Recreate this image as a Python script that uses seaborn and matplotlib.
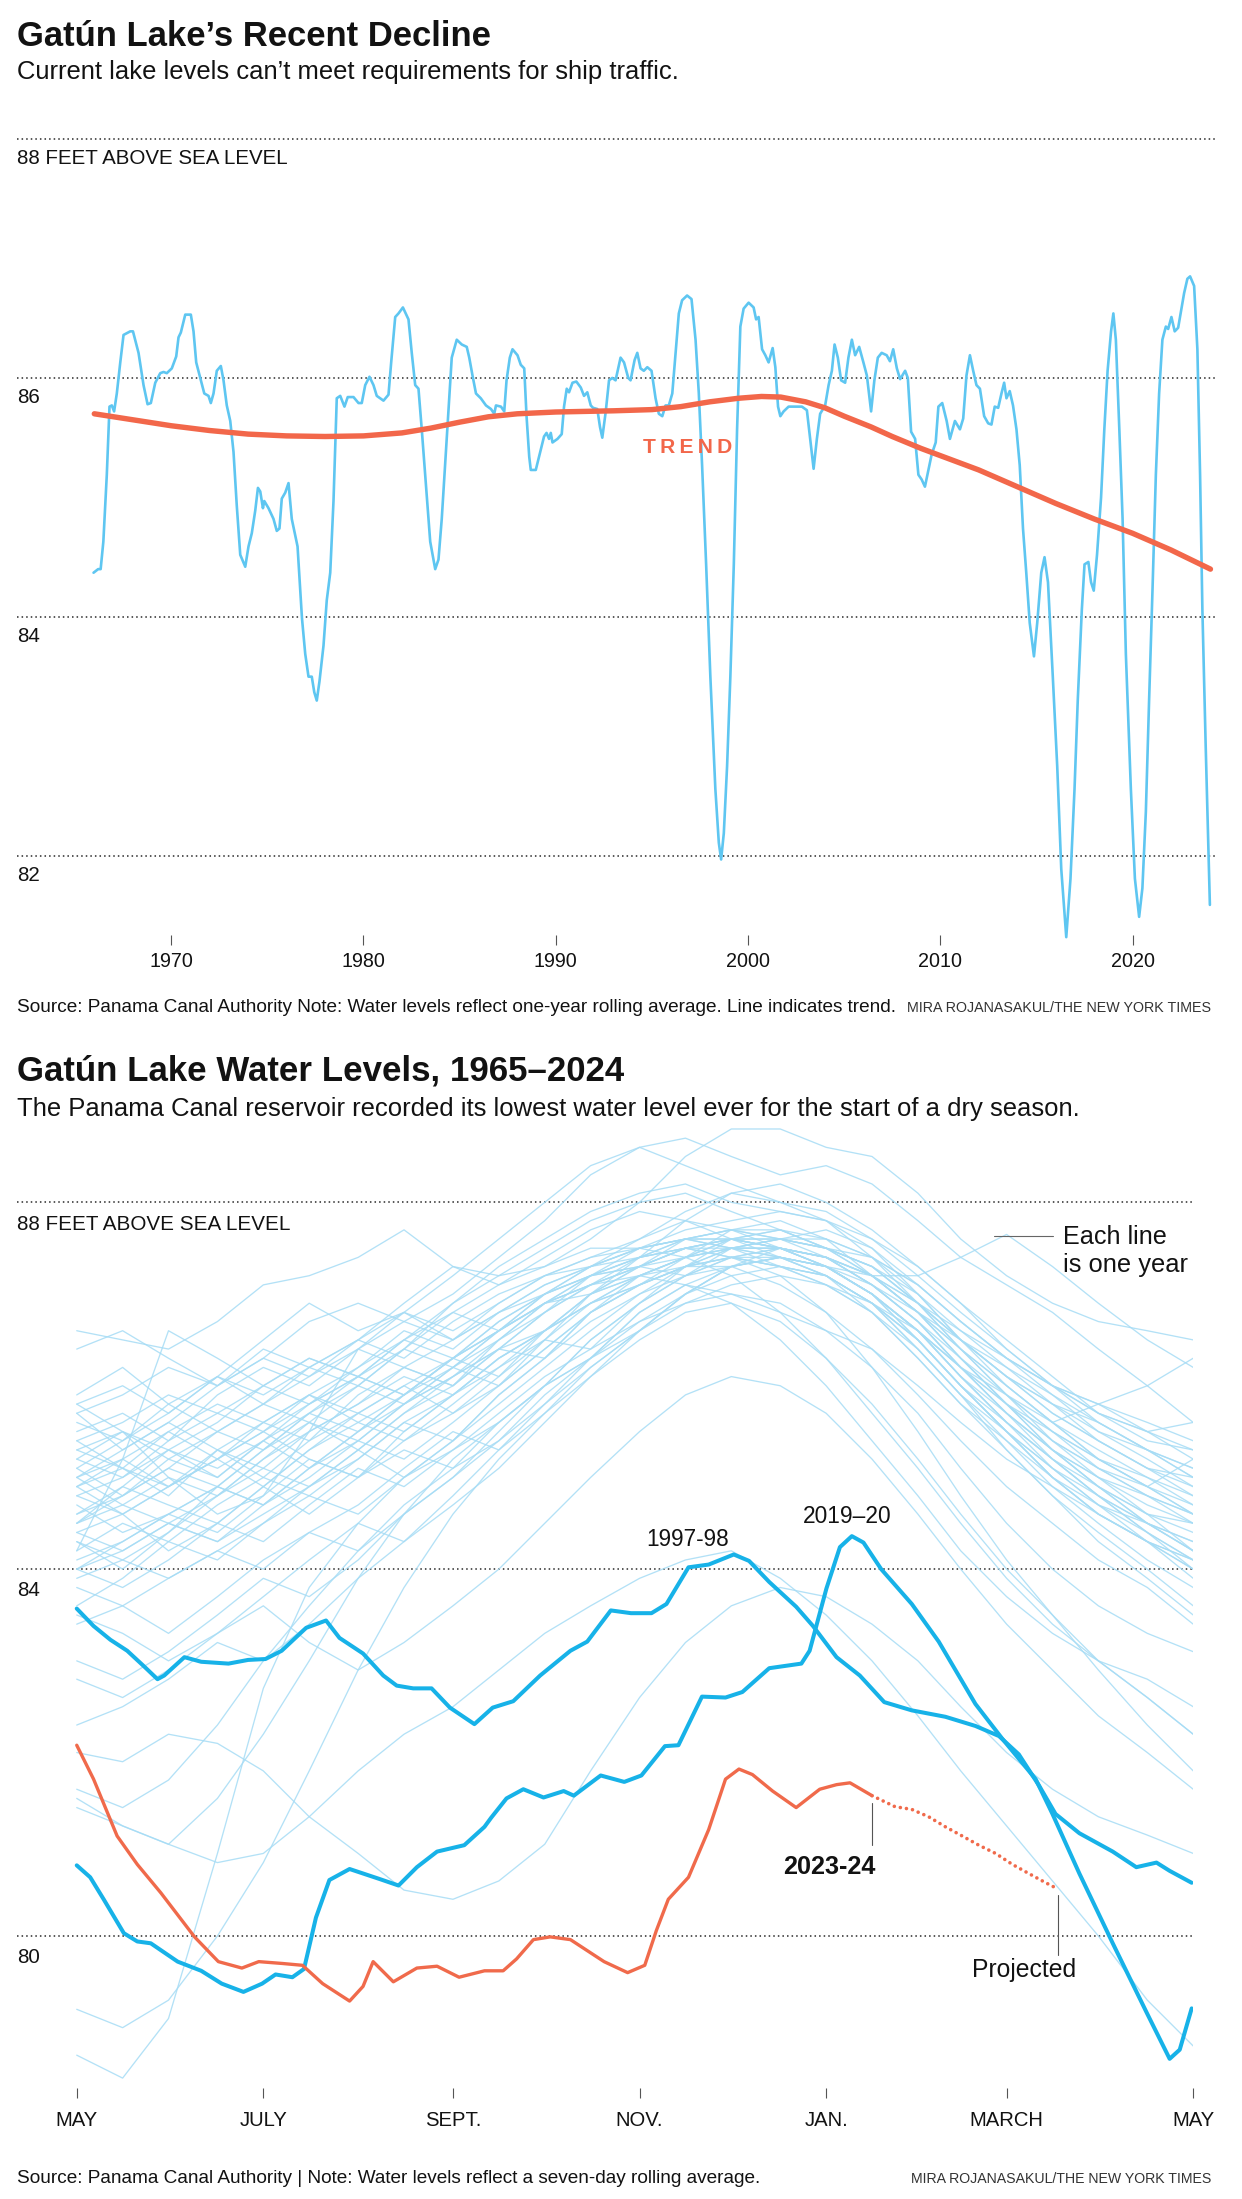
# Gatún Lake: two stacked NYT-style charts in one tall figure

import matplotlib
matplotlib.use('Agg')
import pandas as pd
import matplotlib.pyplot as plt
import matplotlib.transforms as mtransforms
import seaborn as sns

# %% data: one-year rolling average of the lake level (feet), 1966-2024
top_points = [
    (1965.96, 84.37), (1966.2, 84.40), (1966.33, 84.40), (1966.47, 84.63), (1966.65, 85.19),
    (1966.79, 85.76), (1966.91, 85.77), (1967.03, 85.72), (1967.17, 85.87), (1967.35, 86.13),
    (1967.52, 86.36), (1967.87, 86.39), (1968.01, 86.39), (1968.30, 86.21), (1968.56, 85.94),
    (1968.77, 85.78), (1968.94, 85.79), (1969.17, 85.96), (1969.43, 86.04), (1969.60, 86.05),
    (1969.77, 86.04), (1970.03, 86.08), (1970.26, 86.18), (1970.38, 86.34), (1970.50, 86.38),
    (1970.73, 86.53), (1971.02, 86.53), (1971.16, 86.39), (1971.30, 86.13), (1971.51, 86.00),
    (1971.72, 85.87), (1971.94, 85.85), (1972.06, 85.79), (1972.20, 85.87), (1972.37, 86.06),
    (1972.58, 86.10), (1972.72, 85.98), (1972.89, 85.77), (1973.07, 85.64), (1973.24, 85.38),
    (1973.41, 84.93), (1973.59, 84.52), (1973.85, 84.42), (1974.02, 84.59), (1974.19, 84.70),
    (1974.37, 84.89), (1974.51, 85.08), (1974.63, 85.05), (1974.77, 84.91), (1974.84, 84.97),
    (1975.06, 84.91), (1975.32, 84.82), (1975.49, 84.72), (1975.63, 84.74), (1975.75, 84.99),
    (1975.93, 85.04), (1976.10, 85.12), (1976.27, 84.82), (1976.57, 84.59), (1976.80, 83.99),
    (1976.97, 83.69), (1977.14, 83.50), (1977.31, 83.50), (1977.44, 83.37), (1977.57, 83.30),
    (1977.71, 83.46), (1977.92, 83.76), (1978.09, 84.14), (1978.27, 84.37), (1978.44, 84.97),
    (1978.61, 85.83), (1978.79, 85.85), (1979.01, 85.76), (1979.18, 85.84), (1979.48, 85.84),
    (1979.74, 85.79), (1979.91, 85.79), (1980.09, 85.94), (1980.31, 86.01), (1980.52, 85.94),
    (1980.69, 85.85), (1981.04, 85.81), (1981.30, 85.86), (1981.44, 86.13), (1981.65, 86.51),
    (1981.82, 86.54), (1982.05, 86.59), (1982.34, 86.49), (1982.51, 86.21), (1982.69, 85.94),
    (1982.86, 85.91), (1983.03, 85.57), (1983.21, 85.19), (1983.47, 84.63), (1983.73, 84.40),
    (1983.90, 84.48), (1984.07, 84.82), (1984.33, 85.49), (1984.59, 86.17), (1984.85, 86.32),
    (1985.11, 86.28), (1985.37, 86.26), (1985.5, 86.17), (1985.67, 86.02), (1985.85, 85.87),
    (1986.10, 85.83), (1986.37, 85.77), (1986.63, 85.74), (1986.80, 85.70), (1986.89, 85.77),
    (1987.15, 85.76), (1987.32, 85.72), (1987.44, 85.98), (1987.61, 86.17), (1987.75, 86.24),
    (1988.01, 86.19), (1988.18, 86.11), (1988.36, 86.08), (1988.48, 85.68), (1988.62, 85.34),
    (1988.70, 85.23), (1988.96, 85.23), (1989.13, 85.34), (1989.39, 85.51), (1989.52, 85.54),
    (1989.65, 85.49), (1989.74, 85.54), (1989.83, 85.46), (1990.09, 85.49), (1990.31, 85.53),
    (1990.43, 85.76), (1990.57, 85.91), (1990.69, 85.88), (1990.87, 85.96), (1991.07, 85.97),
    (1991.30, 85.92), (1991.47, 85.85), (1991.64, 85.88), (1991.82, 85.77), (1991.94, 85.75),
    (1992.16, 85.74), (1992.30, 85.59), (1992.42, 85.50), (1992.60, 85.72), (1992.77, 85.98),
    (1992.94, 86.00), (1993.11, 85.98), (1993.37, 86.17), (1993.55, 86.13), (1993.77, 86.00),
    (1993.89, 85.98), (1994.10, 86.15), (1994.24, 86.21), (1994.41, 86.08), (1994.58, 86.06),
    (1994.76, 86.09), (1994.98, 86.06), (1995.19, 85.83), (1995.36, 85.70), (1995.54, 85.68),
    (1995.71, 85.77), (1995.88, 85.77), (1996.06, 85.87), (1996.23, 86.21), (1996.40, 86.54),
    (1996.57, 86.65), (1996.83, 86.69), (1997.06, 86.66), (1997.27, 86.32), (1997.44, 85.87),
    (1997.61, 85.27), (1997.82, 84.44), (1998.04, 83.50), (1998.30, 82.56), (1998.48, 82.11),
    (1998.60, 81.97), (1998.74, 82.19), (1998.91, 82.75), (1999.08, 83.50), (1999.26, 84.44),
    (1999.43, 85.57), (1999.60, 86.43), (1999.77, 86.58), (2000.03, 86.63), (2000.29, 86.59),
    (2000.42, 86.49), (2000.55, 86.51), (2000.73, 86.24), (2000.90, 86.19), (2001.07, 86.13),
    (2001.28, 86.25), (2001.42, 86.09), (2001.56, 85.76), (2001.68, 85.68), (2001.85, 85.72),
    (2002.11, 85.76), (2002.37, 85.76), (2002.80, 85.76), (2003.06, 85.73), (2003.23, 85.49),
    (2003.41, 85.24), (2003.58, 85.49), (2003.75, 85.70), (2004.01, 85.77), (2004.19, 85.94),
    (2004.36, 86.06), (2004.50, 86.28), (2004.67, 86.17), (2004.84, 85.98), (2005.05, 85.96),
    (2005.22, 86.17), (2005.40, 86.32), (2005.57, 86.19), (2005.78, 86.26), (2006.00, 86.13),
    (2006.18, 86.02), (2006.40, 85.72), (2006.57, 85.98), (2006.75, 86.17), (2006.95, 86.21),
    (2007.21, 86.19), (2007.38, 86.14), (2007.55, 86.24), (2007.74, 86.08), (2007.91, 85.99),
    (2008.17, 86.06), (2008.31, 86.00), (2008.48, 85.55), (2008.69, 85.49), (2008.86, 85.19),
    (2009.03, 85.15), (2009.20, 85.09), (2009.38, 85.23), (2009.55, 85.36), (2009.76, 85.46),
    (2009.90, 85.76), (2010.10, 85.79), (2010.33, 85.64), (2010.50, 85.49), (2010.76, 85.64),
    (2011.02, 85.57), (2011.19, 85.66), (2011.36, 86.02), (2011.54, 86.19), (2011.71, 86.06),
    (2011.88, 85.94), (2012.06, 85.91), (2012.28, 85.68), (2012.49, 85.62), (2012.66, 85.61),
    (2012.83, 85.76), (2013.01, 85.75), (2013.18, 85.87), (2013.32, 85.96), (2013.44, 85.83),
    (2013.61, 85.89), (2013.78, 85.77), (2013.96, 85.57), (2014.13, 85.27), (2014.30, 84.74),
    (2014.47, 84.37), (2014.65, 83.95), (2014.87, 83.67), (2015.04, 83.95), (2015.25, 84.37),
    (2015.42, 84.50), (2015.60, 84.29), (2015.85, 83.50), (2016.08, 82.75), (2016.29, 81.89),
    (2016.55, 81.32), (2016.77, 81.81), (2016.98, 82.56), (2017.15, 83.31), (2017.36, 84.06),
    (2017.50, 84.44), (2017.70, 84.46), (2017.84, 84.29), (2017.98, 84.22), (2018.15, 84.52),
    (2018.36, 85.00), (2018.53, 85.57), (2018.70, 86.06), (2018.88, 86.39), (2019.00, 86.54),
    (2019.13, 86.32), (2019.31, 85.57), (2019.48, 84.82), (2019.65, 83.69), (2019.91, 82.56),
    (2020.12, 81.81), (2020.34, 81.49), (2020.51, 81.73), (2020.69, 82.37), (2020.86, 83.31),
    (2021.04, 84.25), (2021.21, 85.19), (2021.38, 85.87), (2021.55, 86.32), (2021.73, 86.43),
    (2021.85, 86.41), (2022.02, 86.51), (2022.19, 86.39), (2022.37, 86.42), (2022.54, 86.58),
    (2022.68, 86.71), (2022.85, 86.83), (2022.99, 86.85), (2023.20, 86.77), (2023.37, 86.24),
    (2023.51, 85.19), (2023.63, 84.06), (2023.80, 82.93), (2023.92, 82.19), (2024.02, 81.59),
]

trend_years = [1966, 1968, 1970, 1972, 1974, 1976, 1978, 1980, 1982, 1983.5, 1985, 1986.5,
               1988, 1990, 1993, 1995, 1996.5, 1998, 1999.5, 2000.7, 2001.7, 2003, 2004,
               2005, 2006.4, 2007.5, 2009, 2010.5, 2012, 2014, 2016, 2018, 2020, 2022, 2024.05]
trend_levels = [85.70, 85.65, 85.60, 85.56, 85.53, 85.515, 85.51, 85.515, 85.54, 85.58, 85.63,
                85.675, 85.70, 85.715, 85.725, 85.735, 85.76, 85.80, 85.83, 85.845, 85.84,
                85.80, 85.75, 85.68, 85.59, 85.51, 85.41, 85.32, 85.23, 85.09, 84.95, 84.82,
                84.70, 84.56, 84.40]

tick_years = [1970, 1980, 1990, 2000, 2010, 2020]

# %% data: seven-day rolling average by season, day 0 = May 1
days = [0, 15, 30, 46, 61, 76, 92, 107, 123, 138, 153, 168, 184,
        199, 214, 230, 245, 260, 275, 289, 304, 319, 334, 350, 365]

typical_lines = [
    [84.9, 85.1, 84.8, 85.3, 85.6, 85.4, 85.9, 86.2, 86.0, 86.5, 86.9, 87.1, 87.3, 87.5, 87.6, 87.5, 87.4, 87.2, 86.8, 86.4, 86.0, 85.6, 85.3, 85.0, 84.8],
    [84.5, 84.7, 85.0, 84.8, 85.2, 85.6, 85.3, 85.7, 86.1, 86.4, 86.3, 86.8, 87.2, 87.4, 87.6, 87.7, 87.5, 87.3, 87.0, 86.5, 86.1, 85.7, 85.4, 85.1, 84.9],
    [85.2, 85.0, 85.4, 85.7, 85.5, 85.8, 86.1, 85.9, 86.3, 86.6, 87.0, 87.2, 87.4, 87.5, 87.4, 87.3, 87.2, 86.9, 86.5, 86.0, 85.6, 85.2, 84.8, 84.5, 84.3],
    [84.2, 84.5, 84.3, 84.7, 85.0, 84.8, 85.2, 85.6, 85.4, 85.9, 86.3, 86.7, 87.0, 87.3, 87.6, 87.5, 87.4, 87.1, 86.7, 86.2, 85.7, 85.3, 85.0, 84.8, 84.6],
    [85.5, 85.7, 85.4, 85.9, 86.2, 86.0, 86.4, 86.7, 86.5, 86.9, 87.2, 87.4, 87.5, 87.6, 87.5, 87.5, 87.3, 87.0, 86.6, 86.2, 85.8, 85.5, 85.2, 85.0, 84.7],
    [84.7, 84.4, 84.6, 84.9, 84.7, 85.1, 85.5, 85.8, 86.2, 86.0, 86.4, 86.8, 87.1, 87.4, 87.5, 87.6, 87.5, 87.3, 86.9, 86.4, 85.9, 85.4, 85.0, 84.6, 84.2],
    [85.0, 85.3, 85.6, 85.3, 85.0, 85.4, 85.7, 85.5, 85.9, 86.3, 86.6, 87.0, 87.2, 87.4, 87.7, 87.8, 87.6, 87.2, 86.8, 86.5, 86.2, 85.9, 85.6, 85.3, 85.1],
    [84.4, 84.6, 84.9, 85.2, 85.5, 85.2, 85.0, 85.4, 85.8, 86.2, 86.5, 86.4, 86.9, 87.3, 87.5, 87.4, 87.2, 86.9, 86.4, 85.9, 85.5, 85.1, 84.7, 84.4, 84.1],
    [85.3, 85.1, 84.9, 85.2, 85.6, 85.9, 85.7, 86.0, 86.3, 86.1, 86.6, 87.0, 87.3, 87.6, 87.7, 87.6, 87.4, 87.1, 86.8, 86.3, 85.8, 85.4, 85.1, 84.9, 85.2],
    [84.8, 85.0, 85.3, 85.1, 85.4, 85.7, 86.0, 85.8, 86.1, 86.5, 86.9, 87.2, 87.4, 87.5, 87.6, 87.4, 87.3, 87.0, 86.6, 86.1, 85.6, 85.2, 84.9, 84.6, 84.4],
    [84.1, 84.3, 84.6, 84.4, 84.8, 85.2, 85.0, 85.5, 85.9, 86.3, 86.6, 87.0, 87.3, 87.5, 87.5, 87.4, 87.3, 87.1, 86.7, 86.3, 85.9, 85.5, 85.2, 84.9, 84.7],
    [85.6, 85.4, 85.8, 86.1, 85.9, 86.2, 86.5, 86.3, 86.7, 87.0, 87.2, 87.3, 87.5, 87.6, 87.6, 87.5, 87.4, 87.2, 86.9, 86.6, 86.3, 86.0, 85.8, 85.6, 85.4],
    [84.6, 84.9, 84.7, 84.5, 84.9, 85.3, 85.6, 85.4, 85.7, 86.0, 86.4, 86.8, 87.1, 87.3, 87.4, 87.5, 87.4, 87.1, 86.7, 86.2, 85.7, 85.3, 84.9, 84.6, 84.5],
    [85.1, 84.8, 85.1, 85.5, 85.8, 85.6, 86.0, 86.4, 86.2, 86.6, 86.9, 87.1, 87.4, 87.6, 87.7, 87.6, 87.5, 87.3, 86.9, 86.5, 86.1, 85.8, 85.5, 85.3, 85.0],
    [84.3, 84.1, 84.4, 84.8, 85.1, 84.9, 85.3, 85.0, 85.4, 85.8, 86.2, 86.6, 87.0, 87.2, 87.5, 87.5, 87.3, 87.0, 86.5, 86.0, 85.5, 85.1, 84.8, 84.4, 84.0],
    [85.4, 85.6, 85.9, 85.7, 86.0, 86.3, 86.1, 86.4, 86.8, 86.6, 86.9, 87.2, 87.4, 87.6, 87.7, 87.7, 87.5, 87.2, 86.9, 86.5, 86.1, 85.8, 85.6, 85.3, 85.1],
    [84.9, 85.2, 84.9, 85.2, 85.5, 85.9, 85.6, 85.9, 86.3, 86.6, 86.9, 87.0, 87.2, 87.3, 87.5, 87.6, 87.5, 87.4, 87.1, 86.7, 86.3, 86.0, 85.7, 85.4, 85.3],
    [84.0, 84.2, 84.5, 84.3, 84.6, 84.9, 85.3, 85.7, 86.0, 86.4, 86.8, 87.1, 87.3, 87.5, 87.6, 87.5, 87.3, 87.0, 86.6, 86.1, 85.6, 85.1, 84.7, 84.3, 83.9],
    [84.6, 84.8, 85.2, 85.5, 85.3, 85.7, 85.5, 85.9, 86.3, 86.7, 87.0, 87.2, 87.3, 87.4, 87.5, 87.6, 87.6, 87.4, 87.0, 86.6, 86.2, 85.8, 85.4, 85.1, 84.8],
    [85.0, 84.7, 84.5, 84.8, 85.2, 85.5, 85.8, 86.1, 85.9, 86.2, 86.6, 86.9, 87.2, 87.4, 87.6, 87.7, 87.6, 87.4, 87.1, 86.7, 86.3, 85.9, 85.5, 85.2, 84.9],
    [84.4, 84.2, 84.5, 84.3, 84.7, 85.1, 85.4, 85.2, 85.6, 86.0, 86.5, 86.9, 87.2, 87.4, 87.5, 87.5, 87.4, 87.2, 86.8, 86.4, 86.0, 85.6, 85.2, 84.9, 84.6],
    [85.2, 85.5, 85.2, 85.0, 85.4, 85.8, 86.1, 85.9, 86.2, 86.5, 86.8, 87.1, 87.3, 87.5, 87.6, 87.6, 87.5, 87.3, 86.9, 86.5, 86.1, 85.7, 85.4, 85.1, 85.0],
]

spread_lines = [
    [85.9, 86.2, 85.8, 85.5, 85.8, 86.2, 86.0, 86.4, 86.9, 87.3, 87.6, 87.9, 88.1, 88.2, 88.0, 87.9, 87.8, 87.5, 87.0, 86.5, 86.0, 85.6, 85.2, 84.9, 84.6],
    [84.3, 84.0, 84.4, 84.9, 85.3, 85.7, 86.1, 86.5, 86.9, 87.2, 87.5, 87.8, 88.0, 88.1, 87.9, 87.7, 87.5, 87.2, 86.8, 86.3, 85.8, 85.3, 84.9, 84.5, 84.2],
    [84.8, 84.6, 84.2, 84.5, 84.9, 84.6, 85.0, 85.3, 85.1, 85.4, 85.9, 86.3, 86.8, 87.1, 87.0, 86.8, 86.6, 86.4, 86.0, 85.6, 85.2, 84.9, 84.6, 84.3, 84.1],
    [85.4, 85.1, 85.5, 85.2, 84.9, 85.3, 85.7, 86.0, 85.7, 86.1, 86.5, 87.0, 87.4, 87.8, 88.1, 88.2, 88.0, 87.7, 87.3, 86.9, 86.4, 86.0, 85.6, 85.3, 85.0],
    [84.0, 83.8, 84.1, 84.5, 84.3, 84.7, 85.1, 84.9, 85.3, 85.6, 86.0, 86.3, 86.7, 87.0, 87.2, 87.3, 87.2, 86.9, 86.4, 85.9, 85.3, 84.8, 84.4, 84.0, 83.6],
    [85.7, 85.3, 85.6, 86.0, 86.4, 86.2, 86.5, 86.9, 87.3, 87.1, 87.4, 87.7, 87.9, 87.8, 87.6, 87.6, 87.7, 87.5, 87.1, 86.7, 86.3, 86.0, 85.8, 85.5, 85.3],
    [84.5, 84.9, 85.3, 85.0, 85.4, 85.1, 85.5, 85.9, 86.3, 86.7, 87.0, 87.2, 87.3, 87.2, 87.3, 87.4, 87.2, 86.8, 86.3, 85.8, 85.4, 85.0, 84.7, 84.5, 84.3],
    [85.1, 85.4, 85.7, 86.1, 85.8, 86.1, 86.4, 86.2, 86.5, 86.8, 87.0, 87.3, 87.6, 87.9, 88.1, 88.0, 87.8, 87.4, 86.9, 86.4, 85.9, 85.5, 85.1, 84.8, 84.5],
    [83.6, 83.9, 84.3, 84.1, 84.5, 84.9, 85.2, 85.6, 85.9, 86.3, 86.6, 86.9, 87.1, 87.3, 87.3, 87.1, 86.8, 86.4, 85.9, 85.4, 84.9, 84.5, 84.1, 83.8, 83.4],
    [84.9, 84.6, 84.9, 85.3, 85.1, 85.5, 85.8, 86.2, 86.0, 86.4, 86.8, 87.2, 87.5, 87.7, 87.8, 87.9, 87.8, 87.6, 87.3, 86.9, 86.5, 86.1, 85.7, 85.5, 85.6],
]

high_lines = [
    [86.6, 86.5, 86.4, 86.7, 87.1, 87.2, 87.4, 87.7, 87.3, 87.2, 87.3, 87.6, 88.0, 88.5, 88.8, 88.8, 88.6, 88.5, 88.1, 87.6, 87.2, 86.9, 86.7, 86.6, 86.5],
    [86.4, 86.6, 86.3, 86.0, 86.3, 86.7, 86.9, 86.7, 87.0, 87.4, 87.8, 88.3, 88.6, 88.7, 88.5, 88.3, 88.4, 88.2, 87.8, 87.4, 87.1, 86.8, 86.4, 86.0, 85.6],
    [85.8, 86.0, 85.7, 86.1, 86.5, 86.9, 86.6, 86.8, 87.2, 87.6, 88.0, 88.4, 88.6, 88.4, 88.2, 88.0, 87.9, 87.6, 87.2, 86.8, 86.4, 86.0, 85.7, 85.5, 85.2],
    [85.7, 85.9, 86.2, 86.0, 86.3, 86.1, 86.5, 86.8, 86.6, 86.9, 87.2, 87.4, 87.6, 87.8, 87.7, 87.5, 87.3, 87.2, 87.2, 87.4, 87.65, 87.3, 86.9, 86.5, 86.2],
    [85.0, 85.2, 85.5, 85.8, 85.6, 85.9, 86.2, 86.5, 86.3, 86.6, 87.0, 87.3, 87.5, 87.6, 87.5, 87.3, 87.1, 86.9, 86.6, 86.2, 85.9, 85.6, 85.8, 86.0, 86.3],
]

lowstart_lines = [
    [78.7, 78.45, 79.1, 80.9, 82.7, 83.8, 84.5, 85.0, 85.4, 85.9, 86.3, 86.8, 87.1, 87.3, 87.4, 87.3, 87.1, 86.8, 86.4, 85.9, 85.4, 84.9, 84.5, 84.1, 83.8],
    [79.2, 79.0, 79.3, 80.0, 80.8, 81.8, 82.9, 83.8, 84.6, 85.2, 85.7, 86.2, 86.6, 87.0, 87.3, 87.4, 87.3, 87.0, 86.6, 86.1, 85.6, 85.2, 84.8, 84.5, 84.2],
    [81.6, 81.4, 81.7, 82.3, 83.0, 83.6, 84.2, 84.7, 85.1, 85.6, 86.0, 86.5, 86.9, 87.2, 87.4, 87.4, 87.2, 86.9, 86.5, 86.0, 85.5, 85.0, 84.6, 84.3, 84.0],
    [81.4, 81.2, 81.0, 81.5, 82.2, 83.0, 83.9, 84.6, 85.2, 85.6, 86.0, 86.3, 86.6, 86.9, 87.1, 87.2, 87.1, 86.8, 86.3, 85.8, 85.3, 84.8, 84.3, 83.9, 83.5],
    [82.3, 82.5, 82.8, 83.2, 83.0, 83.4, 83.9, 84.3, 84.8, 85.3, 85.8, 86.2, 86.6, 87.0, 87.3, 87.4, 87.3, 87.0, 86.6, 86.1, 85.7, 85.3, 85.0, 84.7, 84.5],
    [83.0, 82.8, 83.1, 83.5, 83.9, 83.7, 84.1, 84.6, 85.0, 85.5, 86.0, 86.5, 86.9, 87.2, 87.4, 87.5, 87.4, 87.1, 86.7, 86.2, 85.7, 85.2, 84.8, 84.4, 84.1],
    [83.4, 83.6, 83.3, 83.7, 84.1, 84.4, 84.2, 84.6, 85.0, 85.4, 85.8, 86.3, 86.8, 87.1, 87.3, 87.4, 87.3, 87.0, 86.5, 86.0, 85.5, 85.0, 84.6, 84.3, 84.0],
    [83.8, 83.6, 83.9, 84.2, 84.0, 84.4, 84.7, 85.1, 85.5, 85.3, 85.7, 86.1, 86.6, 87.0, 87.3, 87.5, 87.4, 87.2, 86.8, 86.3, 85.8, 85.3, 84.9, 84.5, 84.2],
]

dry_lines = [
    [81.5, 81.2, 81.0, 80.8, 80.9, 81.3, 81.8, 82.2, 82.5, 82.9, 83.3, 83.6, 83.9, 84.1, 84.2, 83.9, 83.5, 83.0, 82.4, 81.8, 81.2, 80.6, 80.0, 79.3, 78.8],
    [82.0, 81.9, 82.2, 82.1, 81.8, 81.3, 80.9, 80.5, 80.4, 80.6, 81.0, 81.8, 82.6, 83.2, 83.6, 83.8, 83.7, 83.4, 83.0, 82.5, 82.0, 81.6, 81.3, 81.1, 80.9],
    [83.5, 83.3, 83.0, 83.3, 83.6, 83.2, 82.9, 83.2, 83.6, 84.0, 84.5, 85.0, 85.5, 85.9, 86.1, 86.0, 85.7, 85.2, 84.6, 84.0, 83.4, 82.9, 82.4, 82.0, 81.6],
    [82.8, 82.6, 82.9, 83.3, 83.7, 84.1, 84.5, 84.3, 84.7, 85.1, 85.6, 86.1, 86.5, 86.8, 86.9, 86.7, 86.3, 85.8, 85.2, 84.6, 84.0, 83.5, 83.0, 82.6, 82.2],
    [84.0, 84.3, 84.6, 84.9, 84.7, 85.0, 85.4, 85.8, 86.2, 86.6, 86.9, 87.1, 87.2, 87.1, 86.9, 86.5, 86.0, 85.4, 84.8, 84.2, 83.7, 83.3, 83.0, 82.8, 82.5],
    [85.3, 85.5, 85.3, 85.6, 86.0, 86.3, 86.1, 86.5, 86.8, 87.1, 87.3, 87.5, 87.5, 87.4, 87.2, 86.8, 86.3, 85.7, 85.1, 84.5, 83.9, 83.4, 83.0, 82.6, 82.2],
    [84.5, 84.8, 85.1, 84.9, 85.3, 85.6, 85.4, 85.8, 86.1, 86.4, 86.6, 86.9, 87.1, 87.3, 87.4, 87.2, 86.8, 86.2, 85.5, 84.8, 84.1, 83.5, 82.9, 82.3, 81.8],
    [83.9, 84.1, 83.9, 84.2, 84.5, 84.8, 84.6, 85.0, 85.3, 85.7, 86.1, 86.4, 86.7, 86.9, 87.0, 86.9, 86.6, 86.2, 85.7, 85.1, 84.5, 84.0, 83.6, 83.3, 83.1],
]

early_lines = [
    [84.2, 85.2, 86.6, 86.3, 86.0, 85.8, 86.2, 86.6, 86.4, 86.8, 87.1, 87.3, 87.5, 87.6, 87.6, 87.5, 87.3, 87.0, 86.6, 86.2, 85.8, 85.4, 85.1, 84.8, 84.6],
    [85.8, 85.5, 85.0, 84.6, 84.8, 85.5, 86.4, 86.8, 86.5, 86.8, 87.1, 87.3, 87.4, 87.5, 87.4, 87.3, 87.2, 86.9, 86.5, 86.0, 85.5, 85.0, 84.6, 84.3, 84.1],
]

points_9798 = [
    (0, 83.57), (5.5, 83.38), (11, 83.23), (16.5, 83.11), (22, 82.94), (26.4, 82.80),
    (28.6, 82.84), (35.2, 83.04), (40.7, 82.99), (49.6, 82.97), (56, 83.01), (61.7, 83.02),
    (67, 83.11), (75, 83.36), (81.5, 83.44), (85.9, 83.25), (93.6, 83.08), (100.2, 82.84),
    (104.6, 82.73), (110, 82.70), (116, 82.70), (122, 82.49), (130, 82.31), (136, 82.49),
    (142.7, 82.56), (151.5, 82.84), (161.4, 83.11), (166.9, 83.21), (174.6, 83.55),
    (181.2, 83.52), (187.9, 83.52), (192.8, 83.62), (200, 84.02), (206.6, 84.05),
    (214.8, 84.16), (219.8, 84.09), (226.4, 83.86), (235.2, 83.59), (240.7, 83.38),
    (248.4, 83.04), (256, 82.84), (264, 82.55), (273, 82.46), (284, 82.39), (293.8, 82.29),
    (301.5, 82.18), (308, 81.98), (314.6, 81.64), (320, 81.33), (327.8, 81.12),
    (338.7, 80.92), (346.4, 80.75), (353, 80.80), (357.3, 80.71), (364.5, 80.58),
]

points_1920 = [
    (0, 80.77), (4.4, 80.64), (8.8, 80.40), (15.4, 80.03), (19.8, 79.94), (24.2, 79.92),
    (33, 79.72), (40.7, 79.62), (47.4, 79.48), (54.5, 79.39), (60.6, 79.48), (65, 79.58),
    (70.5, 79.55), (74.3, 79.64), (78.2, 80.20), (82.6, 80.61), (89.2, 80.73), (99.1, 80.62),
    (105.2, 80.55), (111.2, 80.75), (117.8, 80.92), (126.7, 80.99), (133.3, 81.19),
    (135.5, 81.29), (140.5, 81.50), (146, 81.60), (152.6, 81.51), (159.2, 81.58),
    (162.5, 81.53), (171.3, 81.75), (179, 81.68), (184.6, 81.75), (192.3, 82.07),
    (196.7, 82.08), (204.4, 82.61), (212.1, 82.60), (217.6, 82.66), (226.4, 82.92),
    (236.9, 82.97), (239.6, 83.11), (245.1, 83.79), (249.5, 84.24), (253.4, 84.36),
    (257.2, 84.29), (263, 84.00), (273, 83.62), (281.8, 83.21), (293.8, 82.53),
    (302.6, 82.15), (313.5, 81.71), (319, 81.33), (327.8, 80.68), (338.7, 79.92),
    (349.7, 79.17), (357.3, 78.66), (360.6, 78.76), (364.5, 79.21),
]

points_2324 = [
    (0, 82.08), (5.5, 81.71), (13.2, 81.09), (19.8, 80.78), (27.5, 80.47), (33, 80.23),
    (38.5, 79.99), (46.3, 79.72), (54, 79.65), (59.5, 79.72), (67.2, 79.70), (73.8, 79.68),
    (80.4, 79.48), (89.2, 79.29), (93.6, 79.45), (96.9, 79.72), (103.5, 79.50),
    (111.2, 79.65), (117.8, 79.67), (125, 79.55), (133.3, 79.62), (139.4, 79.62),
    (143.8, 79.75), (149.3, 79.96), (154.8, 79.99), (161.4, 79.96), (166.9, 79.84),
    (172.4, 79.72), (180.1, 79.60), (185.7, 79.68), (189.5, 80.06), (193.4, 80.40),
    (200, 80.64), (206.6, 81.16), (212.1, 81.71), (216.5, 81.82), (220.9, 81.76),
    (227.5, 81.58), (235.2, 81.40), (242.9, 81.60), (248.4, 81.65), (252.8, 81.67),
    (260, 81.53),
]

points_projected = [
    (260, 81.53), (267.5, 81.41), (273, 81.38), (278.5, 81.30), (284, 81.19),
    (289.5, 81.09), (294.9, 80.99), (300.4, 80.90), (305.9, 80.78), (311.3, 80.68),
    (316.8, 80.58), (320.9, 80.51),
]

month_days = [0, 61, 123, 184, 245, 304, 365]
month_labels = ['MAY', 'JULY', 'SEPT.', 'NOV.', 'JAN.', 'MARCH', 'MAY']

# %% style
sns.set_theme(style='white')
plt.rcParams['font.family'] = ['Liberation Sans', 'DejaVu Sans']

INK = '#121212'
GRID = '#2a2a2a'
TOP_BLUE = '#5ec6f1'
TREND = '#f2674a'
LIGHT = '#a6dcf5'
BRIGHT = '#17b2e8'
ORANGE = '#f06a4b'
DOTS = (0, (1, 2))

W, H = 1242, 2199
fig = plt.figure(figsize=(W / 100, H / 100), dpi=100)
fig.patch.set_facecolor('white')
renderer = fig.canvas.get_renderer()


def fit(t, width):
    # scale the font so the text spans the same width as in the original
    w = t.get_window_extent(renderer).width
    t.set_fontsize(t.get_fontsize() * width / w)
    return t


def put(x, y, s, width, size=14, **kw):
    kw.setdefault('color', INK)
    t = fig.text(x / W, 1 - y / H, s, fontsize=size, va='baseline', **kw)
    return fit(t, width)


def clean(ax):
    for sp in ax.spines.values():
        sp.set_visible(False)
    ax.set_yticks([])
    ax.set_xlabel('')
    ax.set_ylabel('')


# %% headers and footers
put(17.4, 46, 'Gatún Lake’s Recent Decline', 475, 25, fontweight='bold')
put(17.4, 79, 'Current lake levels can’t meet requirements for ship traffic.', 662, 18)
put(17.4, 1012, 'Source: Panama Canal Authority Note: Water levels reflect one-year rolling '
    'average. Line indicates trend.', 881, 13)
put(1211, 1012, 'MIRA ROJANASAKUL/THE NEW YORK TIMES', 303, 10, ha='right', color='#333')
put(17.4, 1080.7, 'Gatún Lake Water Levels, 1965–2024', 608, 25, fontweight='bold')
put(17.4, 1115.7, 'The Panama Canal reservoir recorded its lowest water level ever for the '
    'start of a dry season.', 1063, 18)
put(17.4, 2183, 'Source: Panama Canal Authority | Note: Water levels reflect a seven-day '
    'rolling average.', 747, 13)
put(1211, 2183, 'MIRA ROJANASAKUL/THE NEW YORK TIMES', 300, 10, ha='right', color='#333')

# %% top chart: rolling average and trend
ax1 = fig.add_axes([17.4 / W, 1 - 935 / H, (1217 - 17.4) / W, (935 - 133) / H])
ax1.set_xlim(1962.0, 2024.39)
ax1.set_ylim(81.338, 88.05)
for v in [82, 84, 86, 88]:
    ax1.axhline(v, color=GRID, lw=1.1, ls=DOTS, zorder=1)

top_years = [p[0] for p in top_points]
top_levels = [p[1] for p in top_points]
sns.lineplot(x=top_years, y=top_levels, ax=ax1, color=TOP_BLUE, lw=1.9,
             estimator=None, zorder=2, clip_on=False)
sns.lineplot(x=trend_years, y=trend_levels, ax=ax1, color=TREND, lw=3.9,
             estimator=None, zorder=3)
fit(ax1.text(1996.87, 85.374, 'T\u2009R\u2009E\u2009N\u2009D', color=TREND, fontweight='bold',
             ha='center', va='baseline', fontsize=15), 89)

off1 = mtransforms.offset_copy(ax1.get_yaxis_transform(), fig=fig, y=-25, units='dots')
lab = fit(ax1.text(0, 88, '88 FEET ABOVE SEA LEVEL', transform=off1, va='baseline',
                   color=INK, fontsize=14), 272)
ysize = lab.get_fontsize()
for v in [86, 84, 82]:
    ax1.text(0, v, str(v), transform=off1, va='baseline', color=INK, fontsize=ysize)

clean(ax1)
ax1.set_xticks(tick_years)
ax1.set_xticklabels([str(y) for y in tick_years])
ax1.tick_params(axis='x', bottom=True, length=7.2, width=0.8, color='#555',
                labelsize=14.2, pad=4.8, labelcolor=INK)

# %% bottom chart: one line per season
ax2 = fig.add_axes([17.4 / W, 1 - 2088 / H, (1193.2 - 17.4) / W, (2088 - 1124.4) / H])
ax2.set_xlim(-19.4, 365)
ax2.set_ylim(78.342, 88.85)
for v in [80, 84, 88]:
    ax2.axhline(v, color=GRID, lw=1.1, ls=DOTS, zorder=1)

light_all = typical_lines + spread_lines + high_lines + lowstart_lines + dry_lines + early_lines
rows = []
for i, levels in enumerate(light_all):
    for d, v in zip(days, levels):
        rows.append((i, d, v))
df_light = pd.DataFrame(rows, columns=['line', 'day', 'level'])
sns.lineplot(data=df_light, x='day', y='level', units='line', estimator=None, ax=ax2,
             color=LIGHT, lw=0.95, alpha=0.85, legend=False, zorder=2)

for pts in (points_9798, points_1920):
    sns.lineplot(x=[p[0] for p in pts], y=[p[1] for p in pts], ax=ax2, color=BRIGHT,
                 lw=2.9, estimator=None, zorder=4)

d2324 = [p[0] for p in points_2324]
l2324 = [p[1] for p in points_2324]
sns.lineplot(x=d2324, y=l2324, ax=ax2, color=ORANGE, lw=2.4, estimator=None, zorder=5)
dproj = [p[0] for p in points_projected]
lproj = [p[1] for p in points_projected]
sns.lineplot(x=dproj, y=lproj, ax=ax2, color=ORANGE, lw=2.6, estimator=None, zorder=5,
             linestyle=(0, (0.01, 1.7)), dash_capstyle='round')

# annotations
ax2.plot([d2324[-1], d2324[-1]], [l2324[-1] - 0.08, 80.99], color='#555', lw=0.8, zorder=6)
ax2.plot([dproj[-1], dproj[-1]], [lproj[-1] - 0.06, 79.79], color='#555', lw=0.8, zorder=6)
ax2.plot([300, 319.3], [87.63, 87.63], color='#666', lw=0.8, zorder=6)

fit(ax2.text(199.8, 84.25, '1997-98', ha='center', va='baseline', color=INK, fontsize=15), 83)
fit(ax2.text(251.8, 84.50, '2019–20', ha='center', va='baseline', color=INK, fontsize=15), 89)
fit(ax2.text(d2324[-1] + 1, 80.68, '2023-24', ha='right', va='baseline', color=INK,
             fontweight='bold', fontsize=16), 93)
fit(ax2.text(309.7, 79.55, 'Projected', ha='center', va='baseline', color=INK, fontsize=15), 105)
fit(ax2.text(322.5, 87.545, 'Each line', ha='left', va='baseline', color=INK, fontsize=15), 104)
fit(ax2.text(322.5, 87.24, 'is one year', ha='left', va='baseline', color=INK, fontsize=15), 125)

off2a = mtransforms.offset_copy(ax2.get_yaxis_transform(), fig=fig, y=-27.5, units='dots')
off2b = mtransforms.offset_copy(ax2.get_yaxis_transform(), fig=fig, y=-27, units='dots')
fit(ax2.text(0, 88, '88 FEET ABOVE SEA LEVEL', transform=off2a, va='baseline',
             color=INK, fontsize=14), 273)
for v in [84, 80]:
    ax2.text(0, v, str(v), transform=off2b, va='baseline', color=INK, fontsize=ysize)

clean(ax2)
ax2.set_xticks(month_days)
ax2.set_xticklabels(month_labels)
ax2.tick_params(axis='x', bottom=True, length=7.2, width=0.8, color='#555',
                labelsize=14.6, pad=9.0, labelcolor=INK)

fig.savefig('out.png', dpi=100, facecolor='white')
